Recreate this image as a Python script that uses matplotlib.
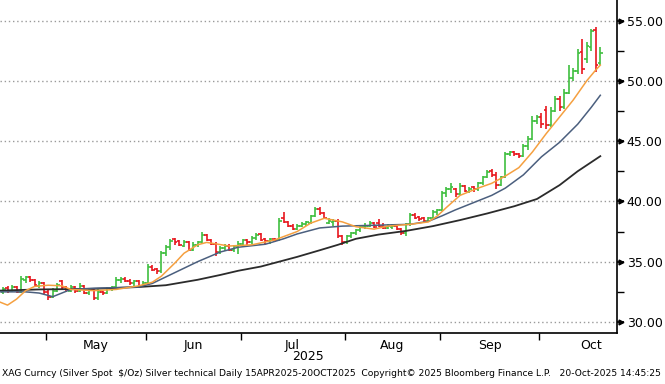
import numpy as np
import pandas as pd
import matplotlib
matplotlib.use("Agg")
import matplotlib.pyplot as plt

# weekdays 15 Apr 2025 - 20 Oct 2025, bars shown from 17 Apr
days = pd.bdate_range("2025-04-15", "2025-10-20")
first_bar = 2

opens = [32.5, 32.8, 32.6, 32.9, 32.5, 33.5, 33.7, 33.5, 33.0, 33.2,
         32.5, 32.1, 32.6, 33.4, 32.9, 32.6, 32.9, 32.6, 33.0, 32.4,
         32.7, 32.0, 32.5, 32.4, 32.8, 32.9, 33.5, 33.6, 33.4, 33.2,
         33.4, 33.0, 33.2, 34.6, 34.4, 34.2, 35.7, 36.2, 36.9, 36.7,
         36.3, 36.6, 36.0, 36.4, 36.6, 37.2, 36.8, 36.5, 35.8, 36.1,
         36.3, 36.0, 36.3, 36.5, 36.8, 36.6, 37.0, 37.3, 36.9, 36.7,
         36.9, 36.8, 38.6, 38.3, 38.0, 37.7, 38.0, 38.1, 38.2, 38.8,
         39.4, 39.0, 38.2, 38.3, 38.4, 37.1, 36.6, 37.1, 37.4, 37.6,
         37.9, 38.0, 38.2, 38.2, 38.0, 37.8, 37.9, 38.0, 37.7, 37.4,
         38.1, 38.9, 38.7, 38.6, 38.4, 38.6, 39.1, 39.3, 40.7, 41.0,
         41.0, 40.6, 41.3, 40.8, 41.2, 41.0, 41.5, 42.0, 42.5, 42.2,
         41.4, 42.0, 43.9, 44.1, 43.9, 43.8, 44.6, 45.2, 46.7, 47.0,
         47.6, 46.3, 47.5, 48.5, 47.8, 49.0, 50.2, 50.8, 52.4, 51.8,
         52.8, 54.2, 51.5]
highs = [32.9, 33.0, 33.1, 33.0, 33.8, 33.8, 33.8, 33.6, 33.4, 33.3,
         32.7, 32.8, 33.2, 33.5, 33.0, 33.1, 33.0, 33.2, 33.1, 32.8,
         32.8, 32.7, 32.6, 32.9, 33.0, 33.7, 33.7, 33.7, 33.6, 33.5,
         33.5, 33.4, 34.8, 34.7, 34.5, 35.9, 36.4, 36.9, 37.0, 36.8,
         36.8, 36.7, 36.6, 36.7, 37.5, 37.3, 36.9, 36.6, 36.3, 36.5,
         36.5, 36.4, 36.7, 36.9, 36.9, 37.1, 37.4, 37.4, 37.0, 37.0,
         37.0, 38.6, 39.1, 38.4, 38.1, 38.1, 38.3, 38.4, 38.9, 39.5,
         39.5, 39.1, 38.6, 38.5, 38.5, 37.2, 37.2, 37.5, 37.7, 38.0,
         38.2, 38.4, 38.3, 38.5, 38.2, 38.1, 38.1, 38.1, 37.8, 38.2,
         39.0, 39.0, 38.8, 38.7, 38.7, 39.3, 39.4, 40.9, 41.2, 41.5,
         41.1, 41.5, 41.4, 41.2, 41.3, 41.6, 42.1, 42.6, 42.7, 42.4,
         42.1, 44.1, 44.2, 44.2, 44.0, 44.8, 45.4, 47.1, 47.2, 47.3,
         47.9, 47.8, 48.7, 48.7, 49.3, 51.3, 51.1, 52.6, 53.5, 53.2,
         54.3, 54.5, 52.8]
lows = [32.3, 32.4, 32.5, 32.4, 32.4, 33.2, 33.3, 33.0, 32.8, 32.3,
        31.8, 32.0, 32.5, 32.7, 32.5, 32.5, 32.4, 32.5, 32.3, 32.2,
        31.8, 31.8, 32.2, 32.3, 32.6, 32.8, 33.2, 33.3, 33.1, 33.0,
        32.9, 32.9, 33.1, 34.2, 34.0, 34.1, 35.5, 36.0, 36.4, 36.3,
        36.2, 35.9, 35.9, 36.2, 36.5, 36.7, 36.4, 35.5, 35.6, 35.9,
        35.9, 35.8, 35.6, 36.3, 36.4, 36.5, 36.8, 36.7, 36.5, 36.5,
        36.6, 36.7, 38.2, 37.9, 37.6, 37.6, 37.9, 38.0, 38.1, 38.7,
        38.9, 38.5, 38.1, 38.0, 37.0, 36.4, 36.5, 37.0, 37.2, 37.5,
        37.7, 37.9, 37.8, 37.9, 37.7, 37.7, 37.7, 37.6, 37.2, 37.1,
        38.0, 38.5, 38.4, 38.3, 38.3, 38.5, 38.9, 39.2, 40.4, 40.7,
        40.4, 40.5, 40.8, 40.7, 40.8, 40.9, 41.4, 41.9, 42.0, 41.0,
        41.3, 41.9, 43.8, 43.8, 43.6, 43.7, 44.3, 45.1, 46.4, 46.1,
        46.0, 46.2, 47.4, 47.5, 47.7, 48.9, 50.0, 50.6, 50.6, 51.5,
        52.5, 50.7, 51.3]
closes = [32.7, 32.6, 32.9, 32.5, 33.6, 33.7, 33.5, 33.1, 33.2, 32.5,
          32.1, 32.6, 33.1, 32.9, 32.7, 32.9, 32.6, 33.0, 32.4, 32.7,
          32.0, 32.5, 32.4, 32.8, 32.9, 33.5, 33.6, 33.4, 33.2, 33.4,
          33.0, 33.2, 34.6, 34.3, 34.2, 35.7, 36.2, 36.7, 36.6, 36.4,
          36.6, 36.0, 36.4, 36.6, 37.2, 36.8, 36.5, 35.8, 36.1, 36.3,
          36.0, 36.3, 36.5, 36.8, 36.6, 37.0, 37.2, 36.8, 36.7, 36.9,
          36.8, 38.4, 38.3, 38.0, 37.7, 38.0, 38.1, 38.3, 38.8, 39.4,
          39.0, 38.6, 38.4, 38.4, 37.1, 36.6, 37.1, 37.4, 37.6, 37.9,
          38.0, 38.2, 37.9, 38.0, 37.8, 38.0, 38.0, 37.7, 37.4, 38.1,
          38.9, 38.6, 38.5, 38.4, 38.6, 39.1, 39.3, 40.7, 41.0, 41.2,
          40.6, 41.3, 40.9, 41.0, 41.0, 41.5, 42.0, 42.4, 42.2, 41.4,
          42.0, 43.9, 44.1, 43.9, 43.8, 44.6, 45.2, 46.7, 47.0, 46.4,
          46.3, 47.5, 48.5, 47.8, 49.0, 50.2, 50.8, 52.3, 51.0, 52.9,
          54.1, 51.3, 52.3]

# moving averages (bar index, value)
ma_fast_x = [1, 3, 5, 7, 9, 12, 15, 17, 22, 27, 32, 35, 37, 40, 42, 45, 47,
             52, 57, 62, 67, 70, 73, 77, 80, 84, 87, 92, 96, 98, 100, 103,
             107, 110, 113, 116, 119, 122, 125, 128, 131, 133, 134]
ma_fast = [31.7, 31.4, 31.9, 32.6, 32.95, 33.05, 33.0, 32.7, 32.6, 32.7,
           33.0, 33.3, 33.8, 34.9, 35.7, 36.4, 36.6, 36.3, 36.4, 36.8,
           37.5, 38.2, 38.6, 38.3, 37.9, 37.7, 37.95, 38.1, 38.3, 38.8,
           39.5, 40.5, 41.1, 41.5, 42.1, 42.8, 44.1, 45.6, 47.0, 48.4,
           50.0, 50.9, 51.3]
ma_mid_x = [1, 7, 10, 13, 15, 17, 22, 32, 35, 40, 45, 50, 54, 60, 64, 67,
            72, 77, 82, 87, 92, 96, 99, 102, 106, 110, 113, 117, 121, 125,
            129, 132, 134]
ma_mid = [32.5, 32.5, 32.4, 32.1, 32.4, 32.7, 32.8, 32.9, 33.2, 34.1,
          35.0, 35.8, 36.2, 36.45, 36.9, 37.3, 37.8, 37.95, 38.0, 38.05,
          38.1, 38.35, 38.8, 39.3, 39.9, 40.5, 41.1, 42.2, 43.7, 44.9,
          46.4, 47.8, 48.8]
ma_slow_x = [1, 10, 22, 32, 38, 45, 50, 54, 59, 63, 67, 72, 76, 80, 85, 91,
             97, 103, 109, 115, 120, 125, 129, 132, 134]
ma_slow = [32.6, 32.7, 32.75, 32.9, 33.05, 33.5, 33.9, 34.25, 34.6, 35.0,
           35.4, 35.95, 36.4, 36.9, 37.25, 37.55, 37.95, 38.45, 39.0, 39.6,
           40.2, 41.35, 42.5, 43.25, 43.75]

fig = plt.figure(figsize=(6.65, 3.84), dpi=100)
ax = fig.add_axes([0, 1 - 333 / 384, 617 / 665, 333 / 384])

x = np.arange(first_bar, first_bar + len(closes))
o = np.array(opens)
h = np.array(highs)
l = np.array(lows)
c = np.array(closes)
up = c >= o
green = "#3fbf3f"
red = "#e8161e"
for mask, col in [(up, green), (~up, red)]:
    ax.vlines(x[mask], l[mask], h[mask], color=col, lw=1.2)
    ax.hlines(o[mask], x[mask] - 0.55, x[mask], color=col, lw=1.2)
    ax.hlines(c[mask], x[mask], x[mask] + 0.55, color=col, lw=1.2)

ax.plot(ma_slow_x, ma_slow, color="#2b2b2b", lw=1.3)
ax.plot(ma_mid_x, ma_mid, color="#4b5f7e", lw=1.1)
ax.plot(ma_fast_x, ma_fast, color="#f5a040", lw=1.1)

ax.set_xlim(11.5 - 46 / 4.525, 11.5 + 571 / 4.525)
ax.set_ylim(30 - 11 / 12.06, 55 + 20.5 / 12.06)

# month boundaries and label positions (weekday index)
months = days.to_period("M")
bounds = [i - 0.5 for i in range(1, len(days)) if months[i] != months[i - 1]]
oct_end = len(pd.bdate_range("2025-04-15", "2025-10-31")) - 0.5
edges = bounds + [oct_end]
mids = [(edges[k] + edges[k + 1]) / 2 for k in range(len(edges) - 1)]
month_names = ["May", "Jun", "Jul", "Aug", "Sep", "Oct"]

ax.set_xticks(bounds)
ax.set_xticklabels([])
ax.set_xticks(mids, minor=True)
ax.set_xticklabels(month_names, minor=True)
ax.tick_params(axis="x", which="major", direction="out", length=5, width=1)
ax.tick_params(axis="x", which="minor", length=0, labelsize=9, pad=4)

yt = [30, 35, 40, 45, 50, 55]
ax.yaxis.tick_right()
ax.set_yticks(yt)
ax.set_yticklabels(["%.2f" % v for v in yt])
ax.set_yticks(np.arange(32.5, 55, 5), minor=True)
ax.tick_params(axis="y", which="major", direction="out", length=5, width=1.2,
               labelsize=9, pad=2)
ax.tick_params(axis="y", which="minor", direction="out", length=5, width=1)
ax.plot([1.007] * len(yt), yt, ">", color="black", ms=3.5,
        transform=ax.get_yaxis_transform(), clip_on=False)

for v in yt:
    ax.axhline(v, color="#9a9a9a", lw=1, ls=(0, (1, 2)), zorder=0)

for s in ["top", "left"]:
    ax.spines[s].set_visible(False)
ax.spines["right"].set_linewidth(1.2)
ax.spines["bottom"].set_linewidth(1.2)

fig.text(308 / 665, 1 - 356 / 384, "2025", ha="center", va="center", fontsize=9)
fig.text(0.003, 1 - 374 / 384,
         "XAG Curncy (Silver Spot  $/Oz) Silver technical Daily 15APR2025-20OCT2025  "
         "Copyright\u00a9 2025 Bloomberg Finance L.P.   20-Oct-2025 14:45:25",
         ha="left", va="center", fontsize=6.6)

fig.savefig("out.png", dpi=100)
